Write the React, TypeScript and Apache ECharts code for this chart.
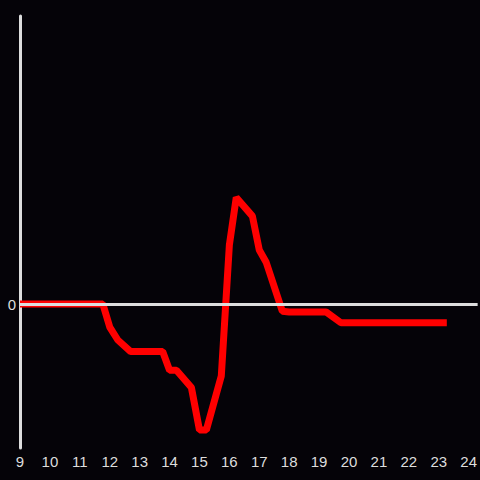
import React, { useEffect, useRef } from "react";
import * as echarts from "echarts";

const hours = [9.0, 11.77, 12.0, 12.27, 12.7, 13.77, 14.0, 14.23, 14.73, 15.0, 15.23, 15.73, 16.0, 16.23, 16.77, 17.0, 17.23, 17.77, 18.0, 19.23, 19.73, 23.27];
const values = [0, 0, -16, -25, -33, -33, -46, -46, -58, -87.5, -87.5, -50, 41, 74, 61, 37.5, 29, -5, -5.5, -5.5, -13, -13];
const xTicks = [9, 10, 11, 12, 13, 14, 15, 16, 17, 18, 19, 20, 21, 22, 23, 24];

export default function App() {
  const ref = useRef<HTMLDivElement>(null);
  useEffect(() => {
    if (!ref.current) return;
    const chart = echarts.init(ref.current, null, { renderer: "svg" });
    const data = hours.map((h, i) => [h, values[i]]);
    chart.setOption({
      animation: false,
      backgroundColor: "#050308",
      grid: { left: 20, right: 0, top: 16, bottom: 32 },
      xAxis: {
        type: "value",
        min: 9,
        max: 24.3,
        axisLine: { show: false },
        axisTick: { show: false },
        splitLine: { show: false },
        axisLabel: {
          color: "#dddddd",
          fontSize: 15,
          fontFamily: "Liberation Sans",
          margin: 6,
          customValues: xTicks,
          showMinLabel: true,
          showMaxLabel: true,
          hideOverlap: false,
        },
      },
      yAxis: {
        type: "value",
        min: -100,
        max: 200,
        interval: 100,
        axisLine: { show: true, lineStyle: { color: "#dddddd", width: 3 } },
        axisTick: { show: false },
        splitLine: { show: false },
        axisLabel: {
          color: "#dddddd",
          fontSize: 15,
          fontFamily: "Liberation Sans",
          margin: 4,
          formatter: (v: number) => (v === 0 ? "0" : ""),
        },
      },
      series: [
        {
          type: "line",
          data: [],
          z: 1,
          markLine: {
            silent: true,
            symbol: "none",
            label: { show: false },
            lineStyle: { color: "#dddddd", width: 3, type: "solid" },
            data: [{ yAxis: 0 }],
          },
        },
        {
          type: "line",
          z: 3,
          data,
          showSymbol: false,
          symbol: "none",
          lineStyle: { color: "#ff0000", width: 7 },
        },
      ],
    });
    return () => chart.dispose();
  }, []);
  return (
    <div
      ref={ref}
      style={{ position: "absolute", left: 0, top: 0, width: 480, height: 480, background: "#050308" }}
    />
  );
}
